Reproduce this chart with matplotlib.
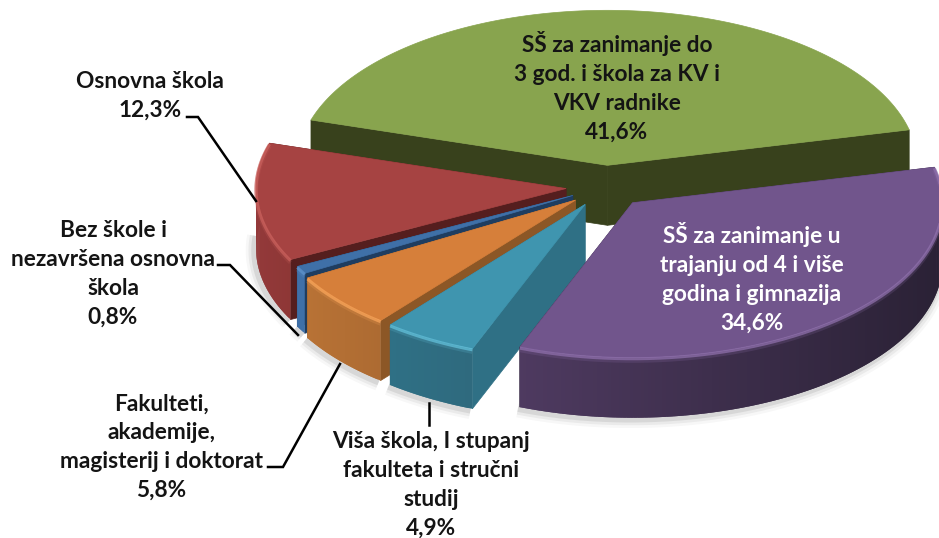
import numpy as np
import matplotlib
matplotlib.use("Agg")
import matplotlib.pyplot as plt
from matplotlib.patches import Polygon
from matplotlib.colors import to_rgb

plt.rcParams['font.family'] = ['Lato', 'DejaVu Sans']

# ---- data (clockwise from the green slice) ----
labels = [
    "SŠ za zanimanje do\n3 god. i škola za KV i\nVKV radnike",
    "SŠ za zanimanje u\ntrajanju od 4 i više\ngodina i gimnazija",
    "Viša škola, I stupanj\nfakulteta i stručni\nstudij",
    "Fakulteti,\nakademije,\nmagisterij i doktorat",
    "Bez škole i\nnezavršena osnovna\nškola",
    "Osnovna škola",
]
values = [41.6, 34.6, 4.9, 5.8, 0.8, 12.3]
value_labels = ["41,6%", "34,6%", "4,9%", "5,8%", "0,8%", "12,3%"]

# ---- styling ----
explode = [0.14, 0.16, 0.115, 0.10, 0.10, 0.11]
nudge = [(6, 0), (0, -3), (3, 2), (-1, 3), (0, 1), (0, 0)]
top_c = ['#88A44E', '#71558C', '#3F95AF', '#D67F3A', '#3F70A8', '#A64342']
edge_c = ['#88A44E', '#8E6FAB', '#63C0DA', '#F9A55A', '#5F93CC', '#C9605C']
side_c = ['#38411C', '#2D2338', '#2F7085', '#8C5726', '#1F3D60', '#551E1E']
wall_l = ['#38411C', '#4E3A60', '#2F7085', '#B87235', '#3F70A8', '#93393A']
wall_r = ['#38411C', '#2A2135', '#2F6A7E', '#AD6B32', '#3F70A8', '#8E3736']
text_pos = [(617, 87), (752, 278), (431, 485), (161, 447), (113, 274), (150, 96)]
text_col = ['#141414', 'white', '#141414', '#141414', '#141414', '#141414']
leaders = [None, None,
           [(429, 425), (429, 403)],
           [(268, 467), (283, 467), (340, 364)],
           [(218, 265), (230, 265), (298, 335)],
           [(187, 117), (198, 117), (256, 201)]]
CX, CY, RX, RY, DEPTH = 600, 187, 310, 155, 60
START = 163.0
draw_order = [0, 5, 4, 3, 2, 1]

fig = plt.figure(figsize=(9.39, 5.38), dpi=100, facecolor='white')
ax = fig.add_axes([0, 0, 1, 1])
ax.set_xlim(0, 939)
ax.set_ylim(538, 0)
ax.axis('off')

sweeps = 360 * np.array(values) / np.sum(values)
ends = START - np.cumsum(sweeps)
starts = ends + sweeps


def pt(t, ox, oy):
    r = np.radians(t)
    return ox + RX * np.cos(r), oy - RY * np.sin(r)


def geom(i):
    mid = (starts[i] + ends[i]) / 2
    r = np.radians(mid)
    ox = CX + explode[i] * RX * np.cos(r) + nudge[i][0]
    oy = CY - explode[i] * RY * np.sin(r) + nudge[i][1]
    ts = np.linspace(starts[i], ends[i], max(8, int(sweeps[i] * 1.5)))
    xs, ys = pt(ts, ox, oy)
    return ox, oy, ts, xs, ys


# soft shadow under the front edges
for i in [5, 4, 3, 2, 1]:
    ox, oy, ts, xs, ys = geom(i)
    mask = np.sin(np.radians(ts)) < 0.1
    for w, a in [(12, 0.03), (8, 0.05), (4, 0.08)]:
        ax.plot(xs[mask] - 2, ys[mask] + DEPTH + 2, color='k', lw=w, alpha=a,
                solid_capstyle='butt', zorder=1)

z = 2
for i in draw_order:
    ox, oy, ts, xs, ys = geom(i)
    # radial walls
    for (ex, ey) in [(xs[0], ys[0]), (xs[-1], ys[-1])]:
        ax.add_patch(Polygon([(ox, oy), (ex, ey), (ex, ey + DEPTH), (ox, oy + DEPTH)],
                             closed=True, fc=side_c[i], ec=side_c[i], lw=0.5, zorder=z))
    z += 1
    # outer wall with a horizontal gradient; each quad overlaps the next to hide seams
    xmin, xmax = xs.min(), xs.max()
    cl, cr = np.array(to_rgb(wall_l[i])), np.array(to_rgb(wall_r[i]))
    for k in range(len(xs) - 1):
        if np.sin(np.radians((ts[k] + ts[k + 1]) / 2)) > 0.02 and i != 5:
            continue
        f = ((xs[k] + xs[k + 1]) / 2 - xmin) / max(xmax - xmin, 1)
        c = cl + (cr - cl) * f
        n = min(k + 2, len(xs) - 1)
        idx = np.arange(k, n + 1)
        verts = np.r_[np.c_[xs[idx], ys[idx]], np.c_[xs[idx], ys[idx] + DEPTH][::-1]]
        ax.add_patch(Polygon(verts, closed=True, fc=c, ec='none', lw=0, zorder=z + k * 1e-4))
    z += 1
    # top face
    ax.add_patch(Polygon(np.r_[[(ox, oy)], np.c_[xs, ys]], closed=True,
                         fc=top_c[i], ec=top_c[i], lw=0.5, zorder=z))
    z += 1
    # bevel highlight along the rim
    if i != 0:
        ax.plot(xs, ys + 1, color=edge_c[i], lw=2.2, alpha=0.75,
                solid_capstyle='butt', zorder=z)
        ax.plot(xs, ys + 3, color=edge_c[i], lw=3, alpha=0.2,
                solid_capstyle='butt', zorder=z)
    z += 1

for i, seg in enumerate(leaders):
    if seg is not None:
        ax.plot(*zip(*seg), color='k', lw=1.8, zorder=z, solid_joinstyle='miter')

for i in range(len(values)):
    ax.text(*text_pos[i], labels[i] + "\n" + value_labels[i], ha='center', va='center',
            ma='center', fontsize=16.3, fontweight='bold', color=text_col[i],
            linespacing=1.46, zorder=z + 1)

fig.savefig('out.png', dpi=100)
